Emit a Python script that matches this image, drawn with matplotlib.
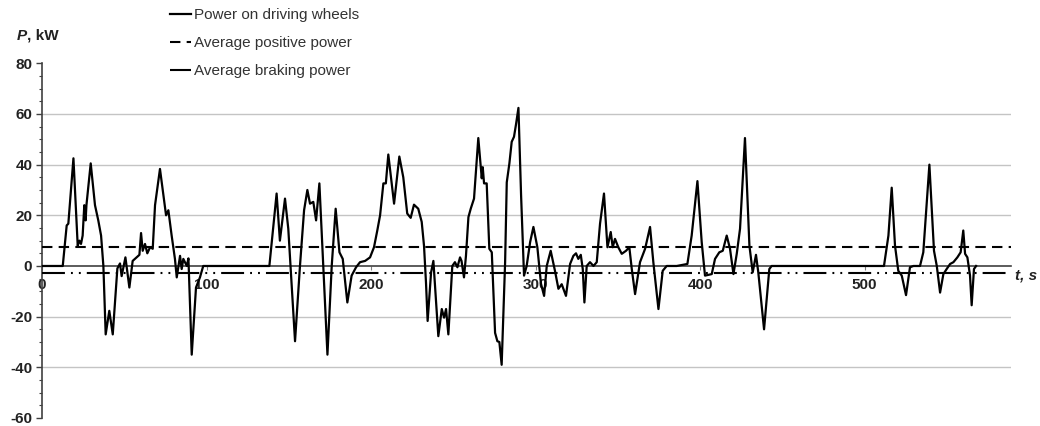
import numpy as np
import matplotlib
matplotlib.use("Agg")
import matplotlib.pyplot as plt
from matplotlib.ticker import MultipleLocator

plt.rcParams['font.family'] = ['Liberation Sans', 'DejaVu Sans']
plt.rcParams['axes.unicode_minus'] = False

# Power on driving wheels (t in s, P in kW)
t_seg1 = [0, 12.6, 15, 16, 19.1, 21.7, 22.7, 23.7, 24.7, 25.7, 26.5, 27, 29.6, 32.2, 34.2,
          35.9, 37.3, 38.7, 40.9, 43, 45.8, 47.4, 48.4, 50.7, 53.1, 55.1, 57.5, 59.2, 60.2,
          61.2, 62.6, 64, 65.7, 67.3, 68.7, 71.7, 75.4, 76.8, 78.8, 80.8, 81.9, 83.9, 84.9,
          85.9, 88, 89, 91, 93.6, 96, 98]
p_seg1 = [0, 0, 16, 16.7, 42.5, 8, 10, 8.7, 12, 24, 18, 24, 40.5, 24, 18,
          12, 0, -27, -17.7, -27, -1, 1, -4, 3.4, -8.5, 2, 3.4, 4.4, 13,
          6, 8.7, 5, 7.4, 6.8, 24, 38.3, 20, 22, 12, 2.8, -4.5, 4, -1.2,
          2.8, 0, 3, -35, -8.5, -4.5, 0]

t_seg2 = [138.2, 142.6, 144.6, 147.7, 149.7, 153.8, 156.8, 159.3, 161.3, 162.9, 164.9,
          166.6, 168.6, 173.5, 176.1, 178.5, 180.8, 182.8, 185.6, 188.2, 190.9, 193.3,
          196.4, 199.4, 201.8, 203.8, 205.5, 207.5, 209, 210.5, 214, 217.2, 219.6, 222,
          224.1, 226.1, 228.7, 230.8, 232.2, 233.4, 234.4, 236.5, 237.9, 240.9, 243,
          244.4, 245.6, 247, 249.4, 251, 252.5, 254.1]
p_seg2 = [0, 28.6, 10, 26.6, 14.7, -29.7, 0, 22, 30, 24.6, 25.3,
          18, 32.6, -35, 0, 22.6, 5.4, 2.8, -14.4, -3.8, -0.5, 1.5,
          2, 3.4, 7.4, 14, 20, 32.6, 32.6, 44, 24.6, 43.2, 35, 20.7,
          19, 24.2, 22.6, 17.4, 8, -6.5, -21.7, -2.5, 2, -27.7, -17,
          -20.4, -17, -27, 0, 1.5, -0.5, 3.4]

t_seg3 = [255, 256.5, 257.7, 259.2, 260.6, 262.6, 265.2, 267.3, 267.9, 268.7, 270.3,
          271.9, 273.4, 275.4, 276.8, 278, 279.4, 281.5, 282.5, 284.1, 285.5, 286.9,
          288.1, 289.6, 291.2, 293, 294.6, 296.7, 298.7, 301.1, 303.3, 305.2, 306.8,
          309.2, 311.8, 313.9, 315.9, 318.5, 321, 323, 324.6, 326, 327.5, 328.7, 329.7,
          331.1, 333.1, 335.2, 337.2, 339.2, 341.6, 343.7, 345.7, 346.9, 348.3, 350.3,
          352.4, 355, 357, 358.5, 360.5, 363.5, 366.6, 369.6, 371.6, 374.7, 377.3,
          379.7, 385.8, 392.3, 394.9, 398.4, 401, 403, 407.1, 409.1, 411.7, 413.8,
          416.2, 418.2, 420.3, 422.3, 424.3, 427.3, 430, 432, 434, 435.4, 438.9,
          442.1, 443.5]
p_seg3 = [2, -4.5, 4, 19.3, 22.6, 26.6, 50.5, 34.6, 39, 32.6, 32.6,
          6.8, 5.4, -26.4, -29.7, -30, -39, 1.5, 33, 40.5, 49, 51,
          55.8, 62.4, 28, -3.8, 0, 9.4, 15.4, 7.4, -7, -11.8, 0,
          6, -1.9, -9, -7.2, -11.8, 0.8, 4, 5, 2.8, 4.4, -1.2, -14.4,
          0, 1.5, 0, 1.5, 16.7, 28.6, 7.4, 13.4, 7.4, 10.7, 7.4,
          4.8, 6, 7.4, -1.2, -11.1, 1.5, 6.8, 15.4, 1.5, -17, -1.9,
          0, 0, 0.8, 12, 33.5, 9.4, -3.8, -3.2, 2.8, 5.4, 6,
          12, 6.8, -3.2, 4.8, 14.7, 50.5, 8, -2.5, 4.4, -2.5, -25,
          -1.2, 0]

t_seg4 = [511.8, 514.5, 516.5, 518.5, 520.5, 522.6, 525.2, 527.6, 529.7, 533.7, 535.7,
          539.4, 542.2, 543.9, 545.9, 547.9, 549.9, 552, 554, 556.4, 558.4, 560, 561.1,
          562.5, 564.1, 565.1, 566.5, 567.8]
p_seg4 = [0, 12, 30.9, 8, -1.9, -3.8, -11.5, -0.5, 0, 0, 5.4,
          40, 6, 0, -10.5, -3.2, -1.2, 0.8, 1.5, 3.4, 5.4, 14, 4.8,
          3.4, -3.8, -15.5, -1.2, 0]

t = np.concatenate([t_seg1, t_seg2, t_seg3, t_seg4])
power = np.concatenate([p_seg1, p_seg2, p_seg3, p_seg4])

AVG_POSITIVE = 7.3
AVG_BRAKING = -2.6
grid_levels = [-40, -20, 20, 40, 60]
x_ticks = [0, 100, 200, 300, 400, 500]

# Figure layout
fig = plt.figure(figsize=(10.4, 4.26), dpi=100)
ax = fig.add_axes([0.0404, 0.0188, 0.9317, 0.8326])
ax.set_xlim(0, 589)
ax.set_ylim(-60, 80)

ax.hlines(grid_levels, 0, 589, colors='#c4c4c4', linewidth=1.0, zorder=1)

line_power, = ax.plot(t, power, color='black', linewidth=1.6, zorder=4,
                      solid_joinstyle='round', label='Power on driving wheels')
line_pos = ax.axhline(AVG_POSITIVE, color='black', linewidth=1.5, dashes=(5, 3), zorder=3,
                      label='Average positive power')
line_brk = ax.axhline(AVG_BRAKING, color='black', linewidth=1.5,
                      dashes=(11, 2.9, 0.9, 2.9, 0.9, 2.9), zorder=3,
                      label='Average braking power')

# Axes styling
for side in ['top', 'right']:
    ax.spines[side].set_visible(False)
ax.spines['bottom'].set_position(('data', 0))
ax.spines['bottom'].set_color('#404040')
ax.spines['bottom'].set_linewidth(1.2)
ax.spines['left'].set_color('#404040')
ax.spines['left'].set_linewidth(1.2)

ax.yaxis.set_major_locator(MultipleLocator(20))
ax.yaxis.set_minor_locator(MultipleLocator(5))
ax.set_xticks(x_ticks)
ax.tick_params(axis='y', which='major', length=4, width=1, color='#404040', pad=3,
               labelsize=11, labelcolor='#222222')
ax.tick_params(axis='y', which='minor', length=2.5, width=0.8, color='#404040')
ax.tick_params(axis='x', which='major', length=3, width=0.8, color='#808080', pad=6,
               labelsize=11, labelcolor='#222222')
for lbl in ax.get_xticklabels() + ax.get_yticklabels():
    lbl.set_fontweight('bold')

# Axis titles
fig.text(17 / 1040, 1 - 36 / 426, 'P', fontsize=11, fontweight='bold', fontstyle='italic',
         va='center', ha='left', color='#222222')
fig.text(27 / 1040, 1 - 36 / 426, ', kW', fontsize=11, fontweight='bold',
         va='center', ha='left', color='#222222')
fig.text(1015 / 1040, 1 - 276 / 426, 't, s', fontsize=11, fontweight='bold', fontstyle='italic',
         va='center', ha='left', color='#222222')

leg = ax.legend(handles=[line_power, line_pos, line_brk], loc='upper left',
                bbox_to_anchor=(170 / 1040, 1 - 8 / 426), bbox_transform=fig.transFigure,
                frameon=False, fontsize=11, handlelength=1.4, handletextpad=0.15,
                labelspacing=0.92, borderpad=0, borderaxespad=0)
for txt in leg.get_texts():
    txt.set_color('#333333')

fig.savefig('out.png', dpi=100)
